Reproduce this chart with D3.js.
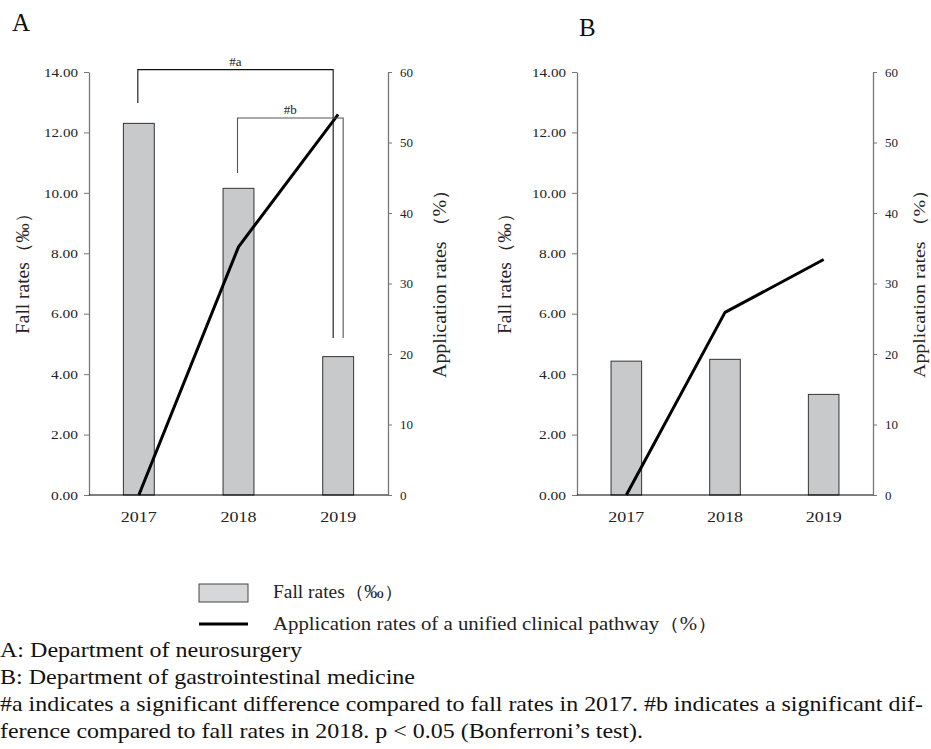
<!DOCTYPE html>
<html>
<head>
<meta charset="utf-8">
<script src="https://cdn.jsdelivr.net/npm/d3@7"></script>
<style>
  html, body { margin: 0; padding: 0; background: #fff; }
  svg { display: block; }
</style>
</head>
<body>
<svg id="chart" width="931" height="749"></svg>
<script>
// ---------- data ----------
const years = ["2017", "2018", "2019"];
const fallRatesA = [12.30, 10.15, 4.58];
const appRatesA = [0, 35.2, 54.0];
const fallRatesB = [4.43, 4.49, 3.33];
const appRatesB = [0, 25.9, 33.4];
const leftTicks = [0, 2, 4, 6, 8, 10, 12, 14];
const rightTicks = [0, 10, 20, 30, 40, 50, 60];
const bracketLabels = ["#a", "#b"];
const bracketFrom = ["2017", "2018"];
const bracketTo = ["2019", "2019"];
const bracketTop = [14.08, 12.48];        // fall-rate units
const bracketLeftEnd = [12.97, 10.66];
const bracketRightEnd = [5.2, 5.2];
const legendLabels = ["Fall rates（‰）", "Application rates of a unified clinical pathway（%）"];
const captionLines = [
  "A: Department of neurosurgery",
  "B: Department of gastrointestinal medicine",
  "#a indicates a significant difference compared to fall rates in 2017. #b indicates a significant dif-",
  "ference compared to fall rates in 2018. p < 0.05 (Bonferroni’s test)."
];

// ---------- drawing ----------
const svg = d3.select("#chart");
const serif = "'Liberation Serif', 'Times New Roman', serif";
const barFill = "#c8c9cb";

function panel(opt) {
  const g = svg.append("g");
  const x = d3.scaleBand().domain(years).range([opt.x0, opt.x1])
    .paddingInner(0.69).paddingOuter(0.345);
  const yL = d3.scaleLinear().domain([0, 14]).range([495, 72]);
  const yR = d3.scaleLinear().domain([0, 60]).range([495, 72]);

  // left axis
  const la = g.append("g").attr("transform", `translate(${opt.x0},0)`)
    .call(d3.axisLeft(yL).tickValues(leftTicks).tickFormat(d3.format(".2f"))
      .tickSize(5).tickPadding(6).tickSizeOuter(0));
  la.select(".domain").attr("stroke", "#777").attr("stroke-width", 1.3);
  la.selectAll(".tick line").attr("stroke", "#777");
  la.selectAll("text").attr("font-family", serif).attr("font-size", 13).attr("fill", "#222")
    .attr("textLength", d => d >= 10 ? 34 : 27).attr("lengthAdjust", "spacingAndGlyphs");

  // right axis
  const ra = g.append("g").attr("transform", `translate(${opt.x1},0)`)
    .call(d3.axisRight(yR).tickValues(rightTicks).tickSize(4).tickPadding(8).tickSizeOuter(0));
  ra.select(".domain").attr("stroke", "#777").attr("stroke-width", 1.3);
  ra.selectAll(".tick line").attr("stroke", "#777");
  ra.selectAll("text").attr("font-family", serif).attr("font-size", 13).attr("fill", "#222");

  // bars
  g.selectAll("rect.bar").data(opt.fall).join("rect")
    .attr("class", "bar")
    .attr("x", (d, i) => x(years[i]))
    .attr("y", d => yL(d))
    .attr("width", x.bandwidth())
    .attr("height", d => yL(0) - yL(d))
    .attr("fill", barFill).attr("stroke", "#333").attr("stroke-width", 1);

  // baseline
  g.append("line").attr("x1", opt.x0).attr("x2", opt.x1)
    .attr("y1", yL(0)).attr("y2", yL(0)).attr("stroke", "#000").attr("stroke-width", 1.2);

  // x labels
  g.selectAll("text.xl").data(years).join("text")
    .attr("class", "xl")
    .attr("x", d => x(d) + x.bandwidth() / 2)
    .attr("y", 522)
    .attr("text-anchor", "middle")
    .attr("font-family", serif).attr("font-size", 15.5).attr("fill", "#222")
    .attr("textLength", 36).attr("lengthAdjust", "spacingAndGlyphs")
    .text(d => d);

  // line
  const line = d3.line()
    .x((d, i) => x(years[i]) + x.bandwidth() / 2)
    .y(d => yR(d));
  g.append("path").datum(opt.app)
    .attr("d", line).attr("fill", "none")
    .attr("stroke", "#000").attr("stroke-width", 3).attr("stroke-linejoin", "round");

  // brackets
  if (opt.brackets) {
    const offs = [-5, 5];
    bracketLabels.forEach((lab, i) => {
      const xa = x(bracketFrom[i]) + x.bandwidth() / 2 - 1;
      const xb = x(bracketTo[i]) + x.bandwidth() / 2 + offs[i];
      const col = i === 0 ? "#111" : "#555";
      g.append("path")
        .attr("d", `M${xa},${yL(bracketLeftEnd[i])}V${yL(bracketTop[i])}H${xb}V${yL(bracketRightEnd[i])}`)
        .attr("fill", "none").attr("stroke", col).attr("stroke-width", 1.1);
      g.append("text")
        .attr("x", (xa + xb) / 2).attr("y", yL(bracketTop[i]) - 4)
        .attr("text-anchor", "middle")
        .attr("font-family", serif).attr("font-size", 13).attr("fill", "#222")
        .text(lab);
    });
  }

  // axis titles
  g.append("text")
    .attr("transform", `translate(${opt.lt},269) rotate(-90)`)
    .attr("text-anchor", "middle").attr("dominant-baseline", "central")
    .attr("font-family", serif).attr("font-size", 18).attr("fill", "#222")
    .attr("textLength", 130).attr("lengthAdjust", "spacingAndGlyphs")
    .text("Fall rates（‰）");
  g.append("text")
    .attr("transform", `translate(${opt.rt},279) rotate(-90)`)
    .attr("text-anchor", "middle").attr("dominant-baseline", "central")
    .attr("font-family", serif).attr("font-size", opt.rfs).attr("fill", "#222")
    .attr("textLength", 198).attr("lengthAdjust", "spacingAndGlyphs")
    .text("Application rates （%）");

  // panel letter
  g.append("text").attr("x", opt.lx).attr("y", opt.ly)
    .attr("font-family", serif).attr("font-size", 25).attr("fill", "#111")
    .text(opt.letter);
}

panel({ x0: 89, x1: 388, fall: fallRatesA, app: appRatesA, brackets: true,
        lt: 23, rt: 440, rfs: 18, letter: "A", lx: 12, ly: 31 });
panel({ x0: 577, x1: 873, fall: fallRatesB, app: appRatesB, brackets: false,
        lt: 505, rt: 919, rfs: 17, letter: "B", lx: 579, ly: 36 });

// legend
const leg = svg.append("g");
leg.append("rect").attr("x", 199).attr("y", 584).attr("width", 49).attr("height", 18)
  .attr("fill", "#d6d7d9").attr("stroke", "#444").attr("stroke-width", 1);
leg.append("line").attr("x1", 199).attr("x2", 248).attr("y1", 624).attr("y2", 624)
  .attr("stroke", "#000").attr("stroke-width", 3);
const legendEnds = [403, 718];
const legendY = [598, 630];
legendLabels.forEach((t, i) => {
  leg.append("text").attr("x", 273).attr("y", legendY[i])
    .attr("font-family", serif).attr("font-size", 18).attr("fill", "#222")
    .attr("textLength", legendEnds[i] - 273).attr("lengthAdjust", "spacingAndGlyphs")
    .text(t);
});

// caption
const capEnds = [302, 415, 923, 643];
captionLines.forEach((t, i) => {
  svg.append("text").attr("x", 0).attr("y", 657 + i * 27)
    .attr("font-family", serif).attr("font-size", 21).attr("fill", "#111")
    .attr("textLength", capEnds[i]).attr("lengthAdjust", "spacingAndGlyphs")
    .text(t);
});
</script>
</body>
</html>
